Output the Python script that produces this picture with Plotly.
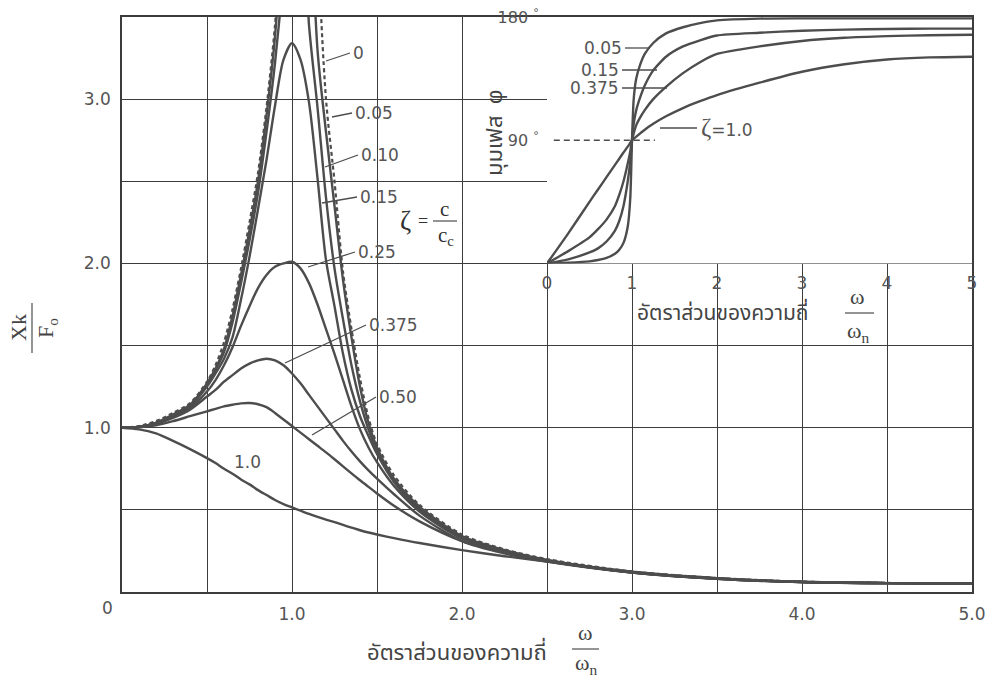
import plotly.graph_objects as go

# ---------------- data ----------------
r_main = [0, 0.1, 0.2, 0.3, 0.4, 0.5, 0.55, 0.6, 0.65, 0.7, 0.75, 0.8, 0.85, 0.9, 0.95,
          1.0, 1.05, 1.1, 1.15, 1.2, 1.25, 1.3, 1.35, 1.4, 1.45, 1.5, 1.6, 1.75,
          2.0, 2.25, 2.5, 3.0, 3.5, 4.0, 4.5, 5.0]

amp_z000 = [1.0, 1.01, 1.04, 1.09, 1.15, 1.28, 1.38, 1.52, 1.72, 1.97, 2.25, 2.55, 2.95, 3.45, 4.2,
            None, None, 6.0, 4.0, 3.0, 2.5, 1.95, 1.6, 1.3, 1.06, 0.9, 0.71, 0.53,
            0.35, 0.26, 0.2, 0.125, 0.085, 0.063, 0.055, 0.05]
amp_z005 = [1.0, 1.005, 1.03, 1.08, 1.14, 1.27, 1.36, 1.48, 1.68, 1.93, 2.2, 2.5, 2.9, 3.38, 4.2,
            5.5, 5.5, 4.4, 3.3, 2.8, 2.35, 1.9, 1.55, 1.25, 1.03, 0.88, 0.69, 0.52,
            0.34, 0.255, 0.195, 0.123, 0.084, 0.062, 0.054, 0.05]
amp_z010 = [1.0, 1.005, 1.03, 1.075, 1.135, 1.26, 1.35, 1.46, 1.64, 1.88, 2.14, 2.43, 2.8, 3.22, 3.75,
            4.3, 4.3, 3.45, 2.95, 2.4, 1.97, 1.66, 1.38, 1.16, 0.99, 0.86, 0.68, 0.51,
            0.335, 0.25, 0.193, 0.122, 0.083, 0.062, 0.054, 0.05]
amp_z015 = [1.0, 1.005, 1.03, 1.07, 1.13, 1.25, 1.33, 1.42, 1.55, 1.78, 2.04, 2.33, 2.63, 2.96, 3.24,
            3.34, 3.24, 2.98, 2.52, 2.02, 1.74, 1.45, 1.23, 1.07, 0.95, 0.84, 0.67, 0.5,
            0.33, 0.248, 0.19, 0.12, 0.082, 0.061, 0.054, 0.05]
amp_z025 = [1.0, 1.005, 1.025, 1.065, 1.12, 1.22, 1.29, 1.38, 1.49, 1.62, 1.74, 1.85, 1.93, 1.98, 2.0,
            2.01, 1.97, 1.88, 1.75, 1.6, 1.45, 1.29, 1.13, 0.99, 0.88, 0.79, 0.645, 0.49,
            0.325, 0.243, 0.188, 0.12, 0.082, 0.061, 0.054, 0.05]
amp_z0375 = [1.0, 1.005, 1.025, 1.06, 1.11, 1.19, 1.23, 1.28, 1.32, 1.36, 1.39, 1.41, 1.42, 1.41, 1.38,
             1.33, 1.27, 1.2, 1.13, 1.06, 0.99, 0.92, 0.855, 0.795, 0.74, 0.69, 0.595, 0.465,
             0.31, 0.235, 0.185, 0.118, 0.081, 0.06, 0.054, 0.05]
amp_z050 = [1.0, 1.003, 1.015, 1.04, 1.07, 1.1, 1.115, 1.13, 1.14, 1.148, 1.15, 1.143, 1.125, 1.09, 1.05,
            1.01, 0.97, 0.93, 0.89, 0.85, 0.808, 0.765, 0.722, 0.68, 0.64, 0.6, 0.525, 0.43,
            0.31, 0.24, 0.19, 0.118, 0.08, 0.06, 0.054, 0.05]
amp_z100 = [1.0, 0.99, 0.965, 0.92, 0.87, 0.815, 0.785, 0.75, 0.72, 0.685, 0.655, 0.62, 0.59, 0.56, 0.535,
            0.515, 0.495, 0.475, 0.457, 0.44, 0.425, 0.408, 0.392, 0.376, 0.362, 0.35, 0.328, 0.298,
            0.255, 0.218, 0.185, 0.118, 0.08, 0.06, 0.054, 0.05]

r_phase = [0, 0.25, 0.5, 0.6, 0.7, 0.8, 0.85, 0.9, 0.95, 0.98, 1.0, 1.02, 1.05, 1.1, 1.15, 1.25,
           1.4, 1.6, 1.8, 2.0, 2.5, 3.0, 3.5, 4.0, 4.5, 5.0]
ph_z005 = [0, 0.5, 1.5, 2.5, 4, 7, 10, 15, 27, 48, 90, 120, 135, 146, 153, 161,
           168, 172.5, 175.5, 177.5, 178.8, 179, 179, 179, 179, 179]
ph_z015 = [0, 3, 8, 11, 16, 24, 31, 42, 60, 75, 90, 102, 112, 122, 130, 141,
           151, 158.5, 163, 166.5, 168.5, 170, 170.8, 171.2, 171.5, 171.5]
ph_z0375 = [0, 9, 19, 25, 32, 42, 50, 60, 73, 82, 90, 95, 101, 107, 112, 120,
            129, 139, 147, 153, 158.5, 162.5, 164.8, 166, 166.7, 167]
ph_z100 = [0, 22, 45, 54, 63, 72, 76.5, 81, 85.3, 88.2, 90, 91, 92.6, 95.2, 97.7, 102,
           107.5, 113.5, 118.5, 123, 132, 140, 145.5, 149, 150.5, 151]
ref90_x = [0.08, 1.27]
ref90_y = [90, 90]

x_ticks = [1, 2, 3, 4, 5]
x_ticktext = ["1.0", "2.0", "3.0", "4.0", "5.0"]
y_ticks = [1, 2, 3]
y_ticktext = ["1.0", "2.0", "3.0"]
ph_xticks = [0, 1, 2, 3, 4, 5]
ph_yticks = [90, 180]
ph_yticktext = ["90 <sup>°</sup>", "180 <sup>°</sup>"]

# ---------------- figure ----------------
W, H = 994, 684
L, R, T, B = 122, 22, 17, 92
PW, PH = W - L - R, H - T - B

def pxx(x):
    return (x - L) / PW

def pxy(y):
    return (H - B - y) / PH

LINE = "#4d4d4d"
GRID = "#3c3c3c"
TXT = "#555555"
SANS = "DejaVu Sans, Verdana, sans-serif"
SERIF = "Liberation Serif, Times New Roman, serif"
THAI = "Noto Sans Thai, Loma, Garuda, Tlwg Typo, Norasi, sans-serif"

fig = go.Figure()

for ys in [amp_z005, amp_z010, amp_z015, amp_z025, amp_z0375, amp_z050, amp_z100]:
    fig.add_trace(go.Scatter(x=r_main, y=ys, mode="lines",
                             line=dict(color=LINE, width=2.4, shape="spline", smoothing=0.8),
                             hoverinfo="skip", showlegend=False, xaxis="x", yaxis="y"))
fig.add_trace(go.Scatter(x=r_main, y=amp_z000, mode="lines", connectgaps=False,
                         line=dict(color=LINE, width=2.2, dash="4px,3px", shape="spline", smoothing=0.8),
                         hoverinfo="skip", showlegend=False, xaxis="x", yaxis="y"))

for ys in [ph_z005, ph_z015, ph_z0375, ph_z100]:
    fig.add_trace(go.Scatter(x=r_phase, y=ys, mode="lines",
                             line=dict(color=LINE, width=2.4, shape="spline", smoothing=0.6),
                             hoverinfo="skip", showlegend=False, xaxis="x2", yaxis="y2"))
fig.add_trace(go.Scatter(x=ref90_x, y=ref90_y, mode="lines", line=dict(color=LINE, width=1.6, dash="6px,4px"),
                         hoverinfo="skip", showlegend=False, xaxis="x2", yaxis="y2"))

tickfont = dict(family=SANS, size=17, color=TXT)
main_axis = dict(showline=True, mirror=True, linecolor=GRID, linewidth=1.5, zeroline=False,
                 showgrid=True, gridcolor=GRID, gridwidth=1.3, automargin=False,
                 ticks="outside", tickcolor="rgba(0,0,0,0)", tickfont=tickfont,
                 minor=dict(dtick=0.5, tick0=0, showgrid=True, gridcolor=GRID, gridwidth=1.3))

fig.update_layout(
    width=W, height=H, margin=dict(l=L, r=R, t=T, b=B, autoexpand=False),
    paper_bgcolor="white", plot_bgcolor="white", showlegend=False,
    xaxis=dict(range=[0, 5], tickvals=x_ticks, ticktext=x_ticktext, ticklen=6, domain=[0, 1], **main_axis),
    yaxis=dict(range=[0, 3.5], tickvals=y_ticks, ticktext=y_ticktext, ticklen=6, domain=[0, 1], **main_axis),
    xaxis2=dict(range=[0, 5], domain=[0.5, 1.0], anchor="y2", tickvals=ph_xticks,
                showgrid=False, showline=False, zeroline=False, automargin=False,
                ticks="outside", ticklen=4, tickcolor="rgba(0,0,0,0)", tickfont=tickfont),
    yaxis2=dict(range=[0, 180], domain=[2 / 3.5, 1.0], anchor="x2", tickvals=ph_yticks, ticktext=ph_yticktext,
                showgrid=False, showline=False, zeroline=False, automargin=False,
                ticks="outside", ticklen=4, tickcolor="rgba(0,0,0,0)", tickfont=dict(family=SANS, size=16, color=TXT)),
)

ann = []
shapes = []

def text(x, y, s, size=17, family=SANS, xanchor="center", yanchor="middle", angle=0, color=TXT):
    ann.append(dict(x=pxx(x), y=pxy(y), xref="paper", yref="paper", text=s, showarrow=False,
                    font=dict(family=family, size=size, color=color), xanchor=xanchor, yanchor=yanchor,
                    textangle=angle))

def seg(x0, y0, x1, y1, w=1.3):
    shapes.append(dict(type="line", xref="paper", yref="paper", x0=pxx(x0), y0=pxy(y0), x1=pxx(x1), y1=pxy(y1),
                       line=dict(color=LINE, width=w)))

# corner zero
text(107, 608, "0")

# curve labels (main)
labels_main = [("0", 326, 61, 350, 53), ("0.05", 332, 117, 352, 113), ("0.10", 325, 167, 358, 155),
               ("0.15", 322, 203, 357, 197), ("0.25", 308, 267, 355, 252), ("0.375", 285, 363, 366, 325),
               ("0.50", 312, 435, 376, 397)]
for s, x0, y0, x1, y1 in labels_main:
    seg(x0, y0, x1, y1)
    text(x1 + 1, y1, s, xanchor="left")
text(247, 462, "1.0")

# zeta definition
text(405, 221, "ζ", size=27, family=SERIF, color="#333")
text(423, 221, "=", size=18, family=SERIF, color="#333")
text(444, 209, "c", size=21, family=SERIF, color="#333")
text(446, 236, "c<sub>c</sub>", size=21, family=SERIF, color="#333")
seg(433, 221, 457, 221, w=1.2)

# inset labels
labels_ph = [("0.05", 625, 48, 650, 48), ("0.15", 622, 70, 657, 70), ("0.375", 622, 88, 667, 88)]
for s, x0, y0, x1, y1 in labels_ph:
    seg(x0, y0, x1, y1)
    text(x0 - 1, y0, s, xanchor="right")
seg(660, 128, 697, 128)
text(699, 128, "<span style='font-size:25px;font-family:Liberation Serif'>ζ</span>=1.0", xanchor="left")

# axis titles
text(457, 653, "อัตราส่วนของความถี่", size=22, family=THAI, color="#444")
text(585, 633, "ω", size=22, family=SERIF, color="#444")
text(586, 664, "ω<sub>n</sub>", size=22, family=SERIF, color="#444")
seg(572, 649, 599, 649, w=1.2)

text(723, 313, "อัตราส่วนของความถี่", size=21, family=THAI, color="#444")
text(857, 296, "ω", size=22, family=SERIF, color="#444")
text(858, 332, "ω<sub>n</sub>", size=22, family=SERIF, color="#444")
seg(845, 313, 874, 313, w=1.2)

text(495, 133, "มุมเฟส  φ", size=22, family=THAI, color="#444", angle=-90)

text(18, 328, "Xk", size=22, family=SERIF, color="#444", angle=-90)
text(47, 328, "F<sub>o</sub>", size=22, family=SERIF, color="#444", angle=-90)
seg(32, 303, 32, 353, w=1.2)

fig.update_layout(annotations=ann, shapes=shapes)
fig.write_html("out.html", config={"displayModeBar": False},
               post_script="document.body.style.margin='0';document.body.style.overflow='hidden';")
